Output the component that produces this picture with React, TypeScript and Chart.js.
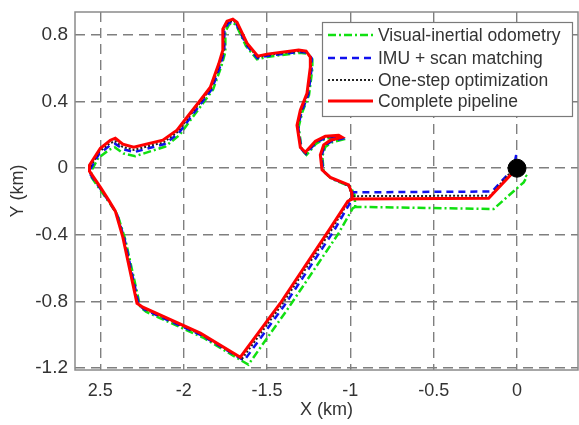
import React, { useEffect, useRef } from "react";
import { Chart, registerables } from "chart.js";

Chart.register(...registerables);

const xTickValues = [-2.5, -2, -1.5, -1, -0.5, 0];
const xTickLabels = ["2.5", "-2", "-1.5", "-1", "-0.5", "0"];
const yTickValues = [-1.2, -0.8, -0.4, 0, 0.4, 0.8];
const yTickLabels = ["-1.2", "-0.8", "-0.4", "0", "0.4", "0.8"];

const seriesNames = [
  "Visual-inertial odometry",
  "IMU + scan matching",
  "One-step optimization",
  "Complete pipeline",
];

const vio: number[][] = [
  [0, 0], [0.06, -0.05], [0.04, -0.085], [-0.14, -0.245], [-0.97, -0.232], [-0.975, -0.16],
  [-1.0, -0.11], [-1.11, -0.065], [-1.16, -0.022], [-1.168, 0.072], [-1.15, 0.128], [-1.11, 0.155],
  [-1.043, 0.173], [-1.06, 0.186], [-1.144, 0.18], [-1.204, 0.148], [-1.263, 0.08], [-1.292, 0.11],
  [-1.31, 0.248], [-1.288, 0.337], [-1.248, 0.438], [-1.228, 0.596], [-1.228, 0.655], [-1.255, 0.688],
  [-1.306, 0.693], [-1.5, 0.668], [-1.56, 0.654], [-1.626, 0.733], [-1.684, 0.858], [-1.702, 0.872],
  [-1.727, 0.864], [-1.75, 0.82], [-1.75, 0.698], [-1.774, 0.612], [-1.824, 0.471], [-1.884, 0.39],
  [-1.964, 0.282], [-2.024, 0.2], [-2.11, 0.13], [-2.29, 0.072], [-2.36, 0.088], [-2.412, 0.125],
  [-2.445, 0.112], [-2.512, 0.062], [-2.556, -0.02], [-2.553, -0.055], [-2.488, -0.148], [-2.438, -0.218],
  [-2.395, -0.284], [-2.349, -0.433], [-2.26, -0.835], [-2.226, -0.862], [-1.884, -1.017], [-1.612, -1.18],
  [-1.372, -0.84], [-1.07, -0.39], [-0.985, -0.24], [-0.97, -0.232],
];

const imu: number[][] = [
  [-0.005, 0.08], [-0.02, 0.0], [-0.15, -0.14], [-0.99, -0.145], [-0.985, -0.13], [-1.008, -0.105],
  [-1.115, -0.06], [-1.163, -0.017], [-1.172, 0.076], [-1.154, 0.133], [-1.115, 0.16], [-1.046, 0.178],
  [-1.064, 0.19], [-1.146, 0.184], [-1.206, 0.153], [-1.266, 0.086], [-1.295, 0.116], [-1.313, 0.252],
  [-1.292, 0.34], [-1.252, 0.442], [-1.232, 0.6], [-1.232, 0.66], [-1.258, 0.694], [-1.308, 0.698],
  [-1.5, 0.674], [-1.558, 0.661], [-1.624, 0.74], [-1.684, 0.866], [-1.704, 0.881], [-1.732, 0.871],
  [-1.756, 0.826], [-1.756, 0.702], [-1.78, 0.616], [-1.83, 0.476], [-1.89, 0.396], [-1.97, 0.29],
  [-2.03, 0.21], [-2.115, 0.145], [-2.295, 0.097], [-2.362, 0.113], [-2.412, 0.147], [-2.443, 0.136],
  [-2.508, 0.085], [-2.56, -0.005], [-2.558, -0.04], [-2.493, -0.134], [-2.443, -0.208], [-2.401, -0.274],
  [-2.355, -0.426], [-2.268, -0.824], [-2.234, -0.85], [-1.89, -1.005], [-1.637, -1.155], [-1.397, -0.826],
  [-1.097, -0.374], [-0.997, -0.2], [-0.985, -0.145],
];

const oneStep: number[][] = [
  [0, 0.02], [-0.16, -0.165], [-0.99, -0.168], [-0.995, -0.15], [-1.012, -0.104], [-1.118, -0.058],
  [-1.166, -0.014], [-1.176, 0.078], [-1.157, 0.136], [-1.118, 0.164], [-1.048, 0.182], [-1.067, 0.194],
  [-1.148, 0.188], [-1.208, 0.157], [-1.268, 0.09], [-1.298, 0.12], [-1.316, 0.255], [-1.296, 0.344],
  [-1.256, 0.446], [-1.236, 0.603], [-1.236, 0.663], [-1.262, 0.698], [-1.31, 0.703], [-1.5, 0.679],
  [-1.556, 0.666], [-1.622, 0.745], [-1.682, 0.871], [-1.704, 0.887], [-1.736, 0.876], [-1.76, 0.83],
  [-1.76, 0.705], [-1.785, 0.62], [-1.836, 0.48], [-1.896, 0.401], [-1.976, 0.298], [-2.036, 0.218],
  [-2.12, 0.155], [-2.3, 0.11], [-2.365, 0.127], [-2.412, 0.162], [-2.442, 0.15], [-2.505, 0.1],
  [-2.562, 0.005], [-2.562, -0.028], [-2.497, -0.124], [-2.447, -0.2], [-2.406, -0.266], [-2.36, -0.42],
  [-2.274, -0.818], [-2.24, -0.842], [-1.896, -0.998], [-1.65, -1.145], [-1.41, -0.818], [-1.11, -0.366],
  [-1.005, -0.19], [-0.99, -0.168],
];

const complete: number[][] = [
  [0, 0], [-0.17, -0.18], [-0.99, -0.185], [-0.99, -0.15], [-1.01, -0.1], [-1.12, -0.055],
  [-1.17, -0.01], [-1.18, 0.08], [-1.16, 0.14], [-1.12, 0.168], [-1.05, 0.186], [-1.07, 0.198],
  [-1.15, 0.192], [-1.21, 0.162], [-1.27, 0.096], [-1.3, 0.126], [-1.32, 0.258], [-1.3, 0.348],
  [-1.26, 0.45], [-1.24, 0.607], [-1.24, 0.667], [-1.265, 0.703], [-1.31, 0.709], [-1.5, 0.685],
  [-1.555, 0.673], [-1.62, 0.751], [-1.68, 0.877], [-1.705, 0.895], [-1.74, 0.883], [-1.765, 0.835],
  [-1.765, 0.709], [-1.79, 0.625], [-1.84, 0.486], [-1.9, 0.408], [-1.98, 0.306], [-2.04, 0.228],
  [-2.125, 0.168], [-2.3, 0.126], [-2.365, 0.144], [-2.41, 0.18], [-2.44, 0.168], [-2.5, 0.12],
  [-2.565, 0.018], [-2.565, -0.018], [-2.5, -0.114], [-2.45, -0.192], [-2.41, -0.258], [-2.365, -0.414],
  [-2.28, -0.811], [-2.245, -0.835], [-1.9, -0.991], [-1.66, -1.135], [-1.42, -0.811], [-1.12, -0.36],
  [-1.015, -0.198], [-0.985, -0.185],
];

const startPoint: number[][] = [[0, 0]];

const FONT = '"Liberation Sans", Arial, Helvetica, sans-serif';

const toXY = (arr: number[][]) => arr.map(([x, y]) => ({ x, y }));

const framePlugin = {
  id: "frame",
  beforeDatasetsDraw(chart: any) {
    const { ctx, chartArea } = chart;
    ctx.save();
    ctx.strokeStyle = "#8a8a8a";
    ctx.lineWidth = 1.5;
    ctx.setLineDash([]);
    ctx.strokeRect(chartArea.left, chartArea.top, chartArea.right - chartArea.left, chartArea.bottom - chartArea.top);
    ctx.restore();
  },
};

const legendPlugin = {
  id: "boxLegend",
  afterDatasetsDraw(chart: any) {
    const ctx = chart.ctx;
    ctx.save();
    const bx = 322.5, by = 22.5, bw = 250, bh = 94;
    ctx.fillStyle = "#ffffff";
    ctx.fillRect(bx, by, bw, bh);
    ctx.strokeStyle = "#7a7a7a";
    ctx.lineWidth = 1.2;
    ctx.strokeRect(bx, by, bw, bh);
    const rows = [35, 58, 80, 101];
    chart.data.datasets.slice(0, 4).forEach((ds: any, i: number) => {
      ctx.beginPath();
      ctx.setLineDash(ds.borderDash || []);
      ctx.strokeStyle = ds.borderColor;
      ctx.lineWidth = ds.borderWidth;
      ctx.moveTo(328, rows[i]);
      ctx.lineTo(373, rows[i]);
      ctx.stroke();
      ctx.setLineDash([]);
      ctx.fillStyle = "#333333";
      ctx.font = `17.5px ${FONT}`;
      ctx.textBaseline = "middle";
      ctx.textAlign = "left";
      ctx.fillText(ds.label, 378, rows[i] + 1);
    });
    ctx.restore();
  },
};

export default function App() {
  const ref = useRef<HTMLCanvasElement | null>(null);

  useEffect(() => {
    if (!ref.current) return;
    const chart = new Chart(ref.current, {
      type: "scatter",
      data: {
        datasets: [
          {
            label: seriesNames[0],
            data: toXY(vio),
            showLine: true,
            borderColor: "#11e011",
            borderWidth: 2.5,
            borderDash: [8, 3, 2, 3],
            pointRadius: 0,
            order: 3,
          },
          {
            label: seriesNames[1],
            data: toXY(imu),
            showLine: true,
            borderColor: "#1010ee",
            borderWidth: 2.5,
            borderDash: [7, 5],
            pointRadius: 0,
            order: 2,
          },
          {
            label: seriesNames[2],
            data: toXY(oneStep),
            showLine: true,
            borderColor: "#222222",
            borderWidth: 2,
            borderDash: [2, 2],
            pointRadius: 0,
            order: 1,
          },
          {
            label: seriesNames[3],
            data: toXY(complete),
            showLine: true,
            borderColor: "#ff0000",
            borderWidth: 3,
            pointRadius: 0,
            order: 0,
          },
          {
            label: "",
            data: toXY(startPoint),
            showLine: false,
            pointRadius: 9,
            pointBackgroundColor: "#000000",
            pointBorderColor: "#000000",
            order: -1,
          },
        ],
      },
      options: {
        animation: false,
        responsive: false,
        devicePixelRatio: 1,
        layout: { autoPadding: false, padding: { top: 12, right: 1, left: 0, bottom: 0 } },
        plugins: {
          legend: { display: false },
          tooltip: { enabled: false },
        },
        scales: {
          x: {
            type: "linear",
            min: -2.652,
            max: 0.366,
            afterBuildTicks: (scale: any) => {
              scale.ticks = xTickValues.map((v) => ({ value: v }));
            },
            afterFit: (scale: any) => {
              scale.height = 55;
              scale.paddingLeft = 0;
              scale.paddingRight = 0;
              scale.paddingTop = 0;
              scale.paddingBottom = 0;
            },
            grid: { color: "#7f7f7f", lineWidth: 1.4, drawTicks: false },
            border: { display: false, dash: [10, 6] },
            ticks: {
              padding: 10,
              color: "#333333",
              font: { family: FONT, size: 18 },
              maxRotation: 0,
              callback: (value: any) => {
                const i = xTickValues.indexOf(Number(value));
                return i >= 0 ? xTickLabels[i] : "";
              },
            },
            title: {
              display: true,
              text: "X (km)",
              color: "#333333",
              font: { family: FONT, size: 18 },
              padding: { top: 0, bottom: 4 },
            },
          },
          y: {
            type: "linear",
            min: -1.212,
            max: 0.938,
            afterBuildTicks: (scale: any) => {
              scale.ticks = yTickValues.map((v) => ({ value: v }));
            },
            afterFit: (scale: any) => {
              scale.width = 75;
              scale.paddingLeft = 0;
              scale.paddingRight = 0;
              scale.paddingTop = 0;
              scale.paddingBottom = 0;
            },
            grid: { color: "#7f7f7f", lineWidth: 1.4, drawTicks: false },
            border: { display: false, dash: [10, 6] },
            ticks: {
              padding: 7,
              color: "#333333",
              font: { family: FONT, size: 19 },
              callback: (value: any) => {
                const i = yTickValues.indexOf(Number(value));
                return i >= 0 ? yTickLabels[i] : "";
              },
            },
            title: {
              display: true,
              text: "Y (km)",
              color: "#333333",
              font: { family: FONT, size: 18 },
              padding: { top: 7, bottom: 0 },
            },
          },
        },
      },
      plugins: [framePlugin, legendPlugin],
    });
    return () => chart.destroy();
  }, []);

  return (
    <div style={{ position: "absolute", left: 0, top: 0, width: 579, height: 425, background: "#fff" }}>
      <canvas ref={ref} width={579} height={425} style={{ display: "block" }} />
    </div>
  );
}
